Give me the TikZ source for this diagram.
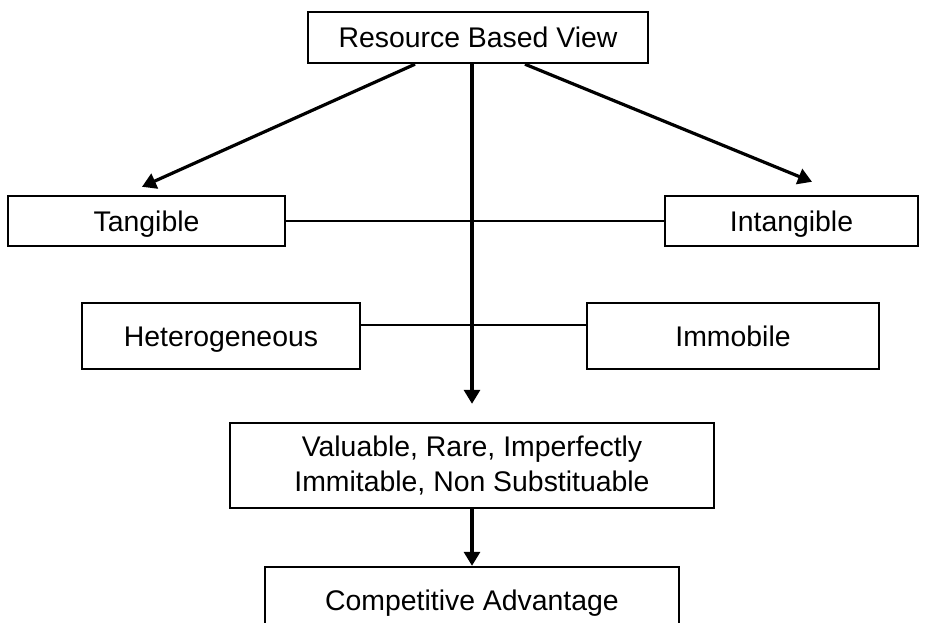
\documentclass[tikz,border=0pt]{standalone}
\usepackage{fontspec}
\setmainfont{Liberation Sans}
\usetikzlibrary{arrows.meta,calc,positioning}

\begin{document}
\begin{tikzpicture}[x=0.5pt,y=-0.5pt,
  box/.style={draw,line width=1.2pt,fill=white,inner sep=0pt,align=center,
    font=\fontsize{14.2pt}{17.5pt}\selectfont},
  oneline/.style={box,text height=10.2pt,text depth=0pt},
  link/.style={line width=1pt},
  flow/.style={line width=1.6pt,-{Triangle[length=7pt,width=8pt]}}]
\useasboundingbox (0,0) rectangle (926,622);
\clip (0,0) rectangle (926,622);
% boxes
\node[oneline,minimum width=170pt,minimum height=25.5pt] (rbv) at (478,37.5) {Resource Based View};
\node[oneline,minimum width=138.5pt,minimum height=25pt] (tan) at (146.5,221) {Tangible};
\node[oneline,minimum width=126.5pt,minimum height=25pt] (intan) at (791.5,221) {Intangible};
\node[oneline,minimum width=139pt,minimum height=33pt] (het) at (221,336) {Heterogeneous};
\node[oneline,minimum width=146pt,minimum height=33pt] (imm) at (733,336) {Immobile};
\node[box,minimum width=242pt,minimum height=42.5pt] (vrin) at (472,465.5) {Valuable, Rare, Imperfectly\\Immitable, Non Substituable};
\node[oneline,minimum width=207pt,minimum height=33pt] (ca) at (472,600) {Competitive Advantage};
% connectors
\draw[link] (tan.east) -- (intan.west);
\draw[link] ([yshift=5.5pt]het.east) -- ([yshift=5.5pt]imm.west);
\draw[flow] (rbv.south -| vrin.north) -- ([yshift=9pt]vrin.north);
\draw[flow] ($(rbv.south)+(-63,0)$) -- ($(tan.north)+(-4.5,-8)$);
\draw[flow] ($(rbv.south)+(47,0)$) -- ($(intan.north)+(20.5,-13)$);
\draw[flow] (vrin.south) -- (ca.north);
\end{tikzpicture}
\end{document}
